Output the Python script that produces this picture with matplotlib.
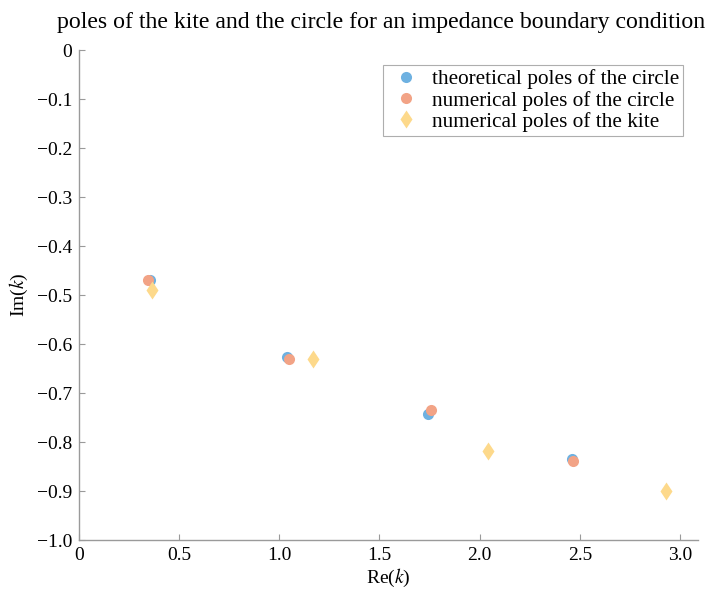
import numpy as np
import matplotlib
matplotlib.use("Agg")
import matplotlib.pyplot as plt
from matplotlib.ticker import FuncFormatter

plt.rcParams['font.family'] = ['Liberation Serif', 'DejaVu Serif']
plt.rcParams['mathtext.fontset'] = 'stix'

# poles
theo_re = [0.355, 1.040, 1.744, 2.459]
theo_im = [-0.469, -0.627, -0.742, -0.834]
circ_re = [0.346, 1.049, 1.759, 2.464]
circ_im = [-0.469, -0.631, -0.734, -0.838]
kite_re = [0.363, 1.169, 2.044, 2.930]
kite_im = [-0.490, -0.631, -0.818, -0.900]

xticks = [0, 0.5, 1.0, 1.5, 2.0, 2.5, 3.0]
yticks = [0, -0.1, -0.2, -0.3, -0.4, -0.5, -0.6, -0.7, -0.8, -0.9, -1.0]

blue = '#6eb1e1'
salmon = '#f2a386'
yellow = '#fdd98b'
gray = '#9a9a9a'

fig = plt.figure(figsize=(7.15, 5.9), dpi=100)
ax = fig.add_axes([0.1105, 0.0847, 0.8657, 0.8305])

ax.plot(theo_re, theo_im, 'o', color=blue, ms=8, mec='none',
        label='theoretical poles of the circle')
ax.plot(circ_re, circ_im, 'o', color=salmon, ms=8, mec='none',
        label='numerical poles of the circle')
ax.plot(kite_re, kite_im, 'd', color=yellow, ms=9.5, mec='none',
        label='numerical poles of the kite')

ax.set_xlim(0, 3.09)
ax.set_ylim(-1.0, 0)
ax.set_xticks(xticks)
ax.set_yticks(yticks)


def fmt(v, pos):
    if abs(v) < 1e-9:
        return '0'
    return ('%.1f' % v).replace('-', '\u2212')


ax.xaxis.set_major_formatter(FuncFormatter(fmt))
ax.yaxis.set_major_formatter(FuncFormatter(fmt))

for s in ['top', 'right']:
    ax.spines[s].set_visible(False)
for s in ['left', 'bottom']:
    ax.spines[s].set_color(gray)
    ax.spines[s].set_linewidth(1.0)
ax.tick_params(direction='in', length=4, width=0.8, color=gray,
               labelsize=14, labelcolor='black', pad=5)

ax.set_xlabel('Re($k$)', fontsize=14, labelpad=2)
ax.set_ylabel('Im($k$)', fontsize=14, labelpad=5)
fig.text(0.533, 0.962,
         'poles of the kite and the circle for an impedance boundary condition',
         fontsize=17.1, ha='center', va='center')

leg = ax.legend(loc='upper right', bbox_to_anchor=(0.976, 0.969),
                borderaxespad=0,
                fontsize=15.3, frameon=True, fancybox=False, handletextpad=0.3,
                labelspacing=0.06, borderpad=0.2, handlelength=1.8)
leg.get_frame().set_edgecolor(gray)
leg.get_frame().set_linewidth(0.8)

fig.savefig('out.png', dpi=100)
